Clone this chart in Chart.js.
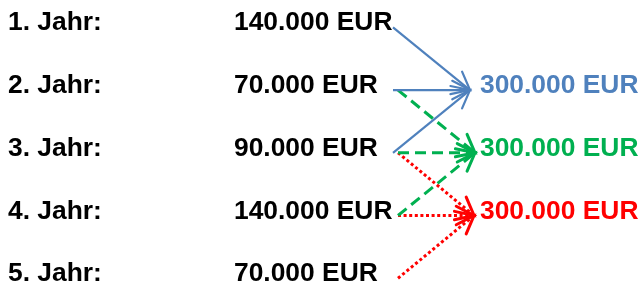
<!DOCTYPE html>
<html>
<head>
<meta charset="utf-8">
<script src="https://cdn.jsdelivr.net/npm/chart.js@4/dist/chart.umd.min.js"></script>
<style>
  html, body { margin: 0; padding: 0; background: #fff; }
  #wrap { width: 641px; height: 289px; position: relative; }
</style>
</head>
<body>
<div id="wrap"><canvas id="myChart"></canvas></div>
<script>
// data
var years = ['1. Jahr:', '2. Jahr:', '3. Jahr:', '4. Jahr:', '5. Jahr:'];
var amounts = [140000, 70000, 90000, 140000, 70000];
// each window of three years flows into one total
var windows = [[1, 2, 3], [2, 3, 4], [3, 4, 5]];
var totals = [300000, 300000, 300000];
var totalRows = [2, 3, 4];
var currency = 'EUR';

// look
var colors = ['#4F81BD', '#00B050', '#FF0000'];
var dashes = [[], [11, 6], [3, 2.6]];
var widths = [2.2, 3, 3];
var startX = [393, 398, 398];
var tipX = [470, 475, 474];
var arrowDy = 0.1;
var labelX = 8, valueX = 234, totalX = 480;
var FONT = 'bold 26.4px "Liberation Sans", Arial, sans-serif';

function fmt(n) {
	return String(n).replace(/\B(?=(\d{3})+(?!\d))/g, '.') + ' ' + currency;
}

var datasets = [];
windows.forEach(function(win, w) {
	win.forEach(function(row) {
		datasets.push({
			data: [{x: startX[w], y: row + arrowDy}, {x: tipX[w], y: totalRows[w] + arrowDy}],
			showLine: true,
			borderColor: colors[w],
			borderWidth: widths[w],
			borderDash: dashes[w],
			pointRadius: 0,
			fill: false
		});
	});
});

var textAndArrows = {
	id: 'textAndArrows',
	afterDatasetsDraw: function(chart) {
		var ctx = chart.ctx, xs = chart.scales.x, ys = chart.scales.y;
		// arrow heads
		chart.data.datasets.forEach(function(ds, i) {
			var pts = chart.getDatasetMeta(i).data;
			var a = pts[0], b = pts[1];
			var ang = Math.atan2(b.y - a.y, b.x - a.x);
			var len = 20, spread = 0.48;
			ctx.save();
			ctx.strokeStyle = ds.borderColor;
			ctx.lineWidth = ds.borderWidth;
			ctx.lineCap = 'round';
			ctx.beginPath();
			ctx.moveTo(b.x - len * Math.cos(ang - spread), b.y - len * Math.sin(ang - spread));
			ctx.lineTo(b.x, b.y);
			ctx.lineTo(b.x - len * Math.cos(ang + spread), b.y - len * Math.sin(ang + spread));
			ctx.stroke();
			ctx.restore();
		});
		// texts
		ctx.save();
		ctx.font = FONT;
		ctx.textBaseline = 'alphabetic';
		ctx.textAlign = 'left';
		var capHalf = 9.4;
		years.forEach(function(label, i) {
			var y = ys.getPixelForValue(i + 1) + capHalf;
			ctx.fillStyle = '#000';
			ctx.fillText(label, xs.getPixelForValue(labelX), y);
			ctx.fillText(fmt(amounts[i]), xs.getPixelForValue(valueX), y);
		});
		totals.forEach(function(t, w) {
			ctx.fillStyle = colors[w];
			ctx.fillText(fmt(t), xs.getPixelForValue(totalX), ys.getPixelForValue(totalRows[w]) + capHalf);
		});
		ctx.restore();
	}
};

var ctx = document.getElementById('myChart').getContext('2d');
var chart = new Chart(ctx, {
	type: 'scatter',
	data: { datasets: datasets },
	options: {
		responsive: true,
		maintainAspectRatio: false,
		animation: false,
		layout: { padding: 0 },
		plugins: { legend: { display: false }, tooltip: { enabled: false } },
		scales: {
			x: { type: 'linear', display: false, min: 0, max: 641 },
			y: { type: 'linear', display: false, min: 0.665, max: 5.271, reverse: true }
		}
	},
	plugins: [textAndArrows]
});
</script>
</body>
</html>
